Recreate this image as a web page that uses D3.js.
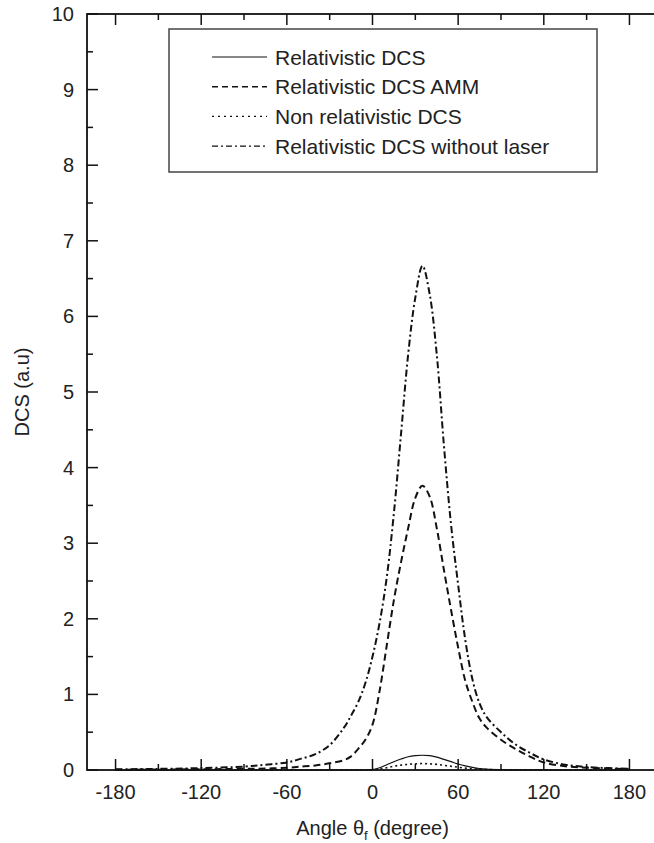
<!DOCTYPE html>
<html>
<head>
<meta charset="utf-8">
<script src="https://cdn.jsdelivr.net/npm/d3@7"></script>
<style>
  body { margin: 0; background: #fff; }
  text { font-family: "Liberation Sans", Arial, sans-serif; fill: #222; }
</style>
</head>
<body>
<div id="chart"></div>
<script>
// angles in degree
var angles = [-180, -150, -120, -90, -75, -60, -50, -40, -30, -20, -15, -10, -5, 0, 5, 10, 15, 20, 25, 30, 35, 40, 45, 50, 55, 60, 65, 70, 75, 80, 90, 100, 110, 120, 135, 150, 165, 180];

var relDCS = [0, 0, 0, 0, 0, 0, 0, 0, 0, 0, 0, 0, 0, 0.005, 0.03, 0.07, 0.11, 0.145, 0.175, 0.19, 0.195, 0.19, 0.17, 0.14, 0.11, 0.08, 0.055, 0.035, 0.02, 0.012, 0.005, 0.002, 0.001, 0, 0, 0, 0, 0];
var relAMM = [0.004, 0.006, 0.01, 0.015, 0.02, 0.03, 0.045, 0.06, 0.09, 0.13, 0.18, 0.28, 0.4, 0.6, 1.05, 1.65, 2.25, 2.75, 3.2, 3.6, 3.76, 3.62, 3.2, 2.65, 2.12, 1.62, 1.18, 0.9, 0.68, 0.56, 0.4, 0.28, 0.18, 0.1, 0.05, 0.03, 0.02, 0.01];
var nonRel = [0, 0, 0, 0, 0, 0, 0, 0, 0, 0, 0, 0, 0, 0.003, 0.015, 0.03, 0.05, 0.065, 0.075, 0.082, 0.085, 0.082, 0.075, 0.062, 0.05, 0.037, 0.025, 0.016, 0.01, 0.006, 0.003, 0.001, 0, 0, 0, 0, 0, 0];
var noLaser = [0.01, 0.015, 0.025, 0.045, 0.07, 0.1, 0.15, 0.21, 0.33, 0.56, 0.72, 0.9, 1.15, 1.5, 1.95, 2.55, 3.4, 4.45, 5.5, 6.25, 6.67, 6.3, 5.5, 4.3, 3.25, 2.45, 1.72, 1.2, 0.88, 0.7, 0.5, 0.34, 0.23, 0.14, 0.07, 0.04, 0.025, 0.015];

var seriesNames = ["Relativistic DCS", "Relativistic DCS AMM", "Non relativistic DCS", "Relativistic DCS without laser"];
var seriesValues = [relDCS, relAMM, nonRel, noLaser];
var dashes = ["none", "7,4", "2,3", "7,3,2,3"];
var widths = [1.2, 2, 1.6, 2];

var xTicks = [-180, -120, -60, 0, 60, 120, 180];
var yTicks = [0, 1, 2, 3, 4, 5, 6, 7, 8, 9, 10];

function drawChart() {
  var width = 654, height = 843;
  var mLeft = 87, mRight = 658, mTop = 14, mBottom = 770;

  var svg = d3.select('#chart').append('svg')
    .attr('width', width)
    .attr('height', height);

  var x = d3.scaleLinear().domain([-200, 200]).range([mLeft, mRight]);
  var y = d3.scaleLinear().domain([0, 10]).range([mBottom, mTop]);

  // frame
  svg.append('rect')
    .attr('x', mLeft).attr('y', mTop)
    .attr('width', mRight - mLeft).attr('height', mBottom - mTop)
    .attr('fill', 'none').attr('stroke', '#111').attr('stroke-width', 1.8);

  // inward ticks on all sides
  var xMinor = d3.range(-180, 181, 30);
  var yMinor = d3.range(0, 10.01, 0.5);

  function tickLen(v, step) { return Math.abs(v % step) < 1e-6 ? 11 : 6; }

  svg.append('g').selectAll('line').data(xMinor).enter().append('line')
    .attr('x1', function(d) { return x(d); }).attr('x2', function(d) { return x(d); })
    .attr('y1', mBottom).attr('y2', function(d) { return mBottom - tickLen(d, 60); })
    .attr('stroke', '#111').attr('stroke-width', 1.5);
  svg.append('g').selectAll('line').data(xMinor).enter().append('line')
    .attr('x1', function(d) { return x(d); }).attr('x2', function(d) { return x(d); })
    .attr('y1', mTop).attr('y2', function(d) { return mTop + tickLen(d, 60); })
    .attr('stroke', '#111').attr('stroke-width', 1.5);
  svg.append('g').selectAll('line').data(yMinor).enter().append('line')
    .attr('y1', function(d) { return y(d); }).attr('y2', function(d) { return y(d); })
    .attr('x1', mLeft).attr('x2', function(d) { return mLeft + tickLen(d, 1); })
    .attr('stroke', '#111').attr('stroke-width', 1.5);

  // tick labels
  svg.append('g').selectAll('text').data(xTicks).enter().append('text')
    .attr('x', function(d) { return x(d); })
    .attr('y', 799)
    .attr('text-anchor', 'middle')
    .attr('font-size', 20)
    .text(function(d) { return d; });

  svg.append('g').selectAll('text').data(yTicks).enter().append('text')
    .attr('x', 74)
    .attr('y', function(d) { return y(d) + 7; })
    .attr('text-anchor', 'end')
    .attr('font-size', 20)
    .text(function(d) { return d; });

  // axis titles
  var xt = svg.append('text')
    .attr('x', x(0)).attr('y', 835)
    .attr('text-anchor', 'middle')
    .attr('font-size', 20);
  xt.append('tspan').text('Angle θ');
  xt.append('tspan').attr('font-size', 13).attr('dy', 5).text('f');
  xt.append('tspan').attr('dy', -5).text(' (degree)');

  svg.append('text')
    .attr('transform', 'translate(29,' + y(5) + ') rotate(-90)')
    .attr('text-anchor', 'middle')
    .attr('font-size', 20)
    .text('DCS (a.u)');

  // curves: the two small ones stay monotone so they never dip below zero
  var smooth = d3.line()
    .x(function(d) { return x(d[0]); })
    .y(function(d) { return y(d[1]); })
    .curve(d3.curveCatmullRom.alpha(0.5));
  var mono = d3.line()
    .x(function(d) { return x(d[0]); })
    .y(function(d) { return y(d[1]); })
    .curve(d3.curveMonotoneX);

  seriesValues.forEach(function(vals, i) {
    var pts = angles.map(function(a, j) { return [a, vals[j]]; });
    var gen = (i == 1 || i == 3) ? smooth : mono;
    svg.append('path')
      .attr('d', gen(pts))
      .attr('fill', 'none')
      .attr('stroke', '#111')
      .attr('stroke-width', widths[i])
      .attr('stroke-dasharray', dashes[i]);
  });

  // legend
  var lg = svg.append('g');
  lg.append('rect')
    .attr('x', 169).attr('y', 29).attr('width', 428).attr('height', 143)
    .attr('fill', '#fff').attr('stroke', '#444').attr('stroke-width', 1.5);

  seriesNames.forEach(function(name, i) {
    var cy = 57 + i * 29.7;
    lg.append('line')
      .attr('x1', 212).attr('x2', 267).attr('y1', cy).attr('y2', cy)
      .attr('stroke', '#111').attr('stroke-width', i == 0 ? 1.2 : 1.4)
      .attr('stroke-dasharray', i == 1 ? '6,4' : i == 2 ? '2,4' : i == 3 ? '6,3,2,3' : 'none');
    lg.append('text')
      .attr('x', 275).attr('y', cy + 7.5)
      .attr('font-size', 21)
      .text(name);
  });
}

drawChart();
</script>
</body>
</html>
